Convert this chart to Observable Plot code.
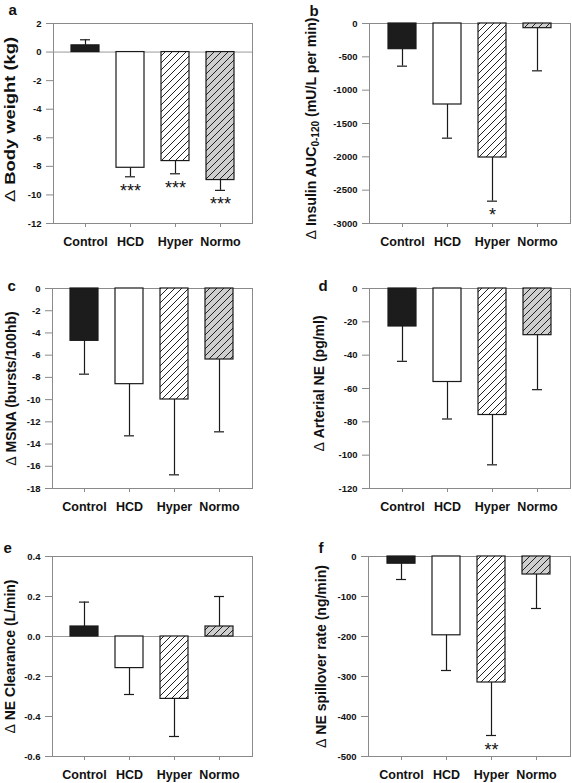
<!DOCTYPE html>
<html><head><meta charset="utf-8">
<script src="https://cdn.jsdelivr.net/npm/d3@7"></script>
<script src="https://cdn.jsdelivr.net/npm/@observablehq/plot@0.6"></script>
<style>
body{margin:0;background:#fff}
#wrap{position:relative;width:572px;height:783px;overflow:hidden}
</style>
</head><body>
<svg width="0" height="0" style="position:absolute"><defs>
<pattern id="hatchW" patternUnits="userSpaceOnUse" width="7" height="7"><rect width="7" height="7" fill="#fff"/><path d="M-1,1 l2,-2 M0,7 l7,-7 M6,8 l2,-2" stroke="#222" stroke-width="1"/></pattern>
<pattern id="hatchG" patternUnits="userSpaceOnUse" width="7" height="7"><rect width="7" height="7" fill="#cfcfcf"/><path d="M-1,1 l2,-2 M0,7 l7,-7 M6,8 l2,-2" stroke="#222" stroke-width="1"/></pattern>
</defs></svg>
<div id="wrap"></div>
<script>
// ---- data ----
const categories = ["Control", "HCD", "Hyper", "Normo"];
const barFills = ["#1c1c1c", "#ffffff", "url(#hatchW)", "url(#hatchG)"];

const bodyWeight = [0.47, -8.1, -7.63, -8.96];
const bodyWeightSem = [0.39, 0.63, 0.89, 0.72];
const bodyWeightStars = ["", "***", "***", "***"];
const bodyWeightTicks = [2, 0, -2, -4, -6, -8, -10, -12];

const insulin = [-385, -1215, -2010, -70];
const insulinSem = [255, 505, 655, 640];
const insulinStars = ["", "", "*", ""];
const insulinTicks = [0, -500, -1000, -1500, -2000, -2500, -3000];

const msna = [-4.71, -8.61, -9.99, -6.39];
const msnaSem = [3.0, 4.65, 6.78, 6.51];
const msnaTicks = [0, -2, -4, -6, -8, -10, -12, -14, -16, -18];

const arterialNE = [-22.8, -56.1, -75.9, -28];
const arterialNESem = [20.9, 22.2, 29.9, 32.7];
const arterialNETicks = [0, -20, -40, -60, -80, -100, -120];

const clearance = [0.05, -0.158, -0.312, 0.05];
const clearanceSem = [0.122, 0.132, 0.188, 0.15];
const clearanceTicks = [0.4, 0.2, 0.0, -0.2, -0.4, -0.6];

const spillover = [-18, -197, -315, -45];
const spilloverSem = [39.5, 88, 132.5, 85];
const spilloverStars = ["", "", "**", ""];
const spilloverTicks = [0, -100, -200, -300, -400, -500];

// ---- layout ----
const panels = [
  {letter: "a", values: bodyWeight, sem: bodyWeightSem, stars: bodyWeightStars, ticks: bodyWeightTicks, domain: [-12, 2],
   label: ["Δ", " Body weight (kg)"], zero: true, fmt: d => String(d),
   left: 0, top: 0, w: 286, h: 260, m: [23, 34, 37, 53], letterAt: [8, 14], labelX: 14, labelLen: 165, labelDy: -4},
  {letter: "b", values: insulin, sem: insulinSem, stars: insulinStars, ticks: insulinTicks, domain: [-3000, 0],
   label: ["Δ", " Insulin AUC", "0-120", " (mU/L per min)"], zero: false, fmt: d => String(d),
   left: 286, top: 0, w: 286, h: 260, m: [23, 2, 37, 83], letterAt: [309, 15], labelX: 315, labelLen: 222, labelDy: 5},
  {letter: "c", values: msna, sem: msnaSem, ticks: msnaTicks, domain: [-18, 0],
   label: ["Δ", " MSNA (bursts/100hb)"], zero: false, fmt: d => String(d),
   left: 0, top: 260, w: 286, h: 260, m: [28, 34, 32, 52], letterAt: [7, 290], labelX: 15, labelDy: 0},
  {letter: "d", values: arterialNE, sem: arterialNESem, ticks: arterialNETicks, domain: [-120, 0],
   label: ["Δ", " Arterial NE (pg/ml)"], zero: false, fmt: d => String(d),
   left: 286, top: 260, w: 286, h: 260, m: [28, 2, 32, 83], letterAt: [318, 290], labelX: 323, labelDy: -5},
  {letter: "e", values: clearance, sem: clearanceSem, ticks: clearanceTicks, domain: [-0.6, 0.4],
   label: ["Δ", " NE Clearance (L/min)"], zero: true, fmt: d => d.toFixed(1),
   left: 0, top: 520, w: 286, h: 263, m: [36, 34, 27, 52], letterAt: [3, 552], labelX: 14, labelDy: 0},
  {letter: "f", values: spillover, sem: spilloverSem, stars: spilloverStars, ticks: spilloverTicks, domain: [-500, 0],
   label: ["Δ", " NE spillover rate (ng/min)"], zero: false, fmt: d => String(d),
   left: 286, top: 520, w: 286, h: 263, m: [36, 2, 27, 82], letterAt: [318, 552], labelX: 325, labelDy: 0}
];

const ink = "#1a1a1a";
const wrap = document.getElementById("wrap");

for (const p of panels) {
  const [mt, mr, mb, ml] = p.m;
  const rows = categories.map((c, i) => ({
    cat: c,
    v: p.values[i],
    end: p.values[i] + Math.sign(p.values[i]) * p.sem[i],
    fill: barFills[i],
    star: p.stars ? p.stars[i] : ""
  }));
  const svg = Plot.plot({
    width: p.w, height: p.h,
    marginTop: mt, marginRight: mr, marginBottom: mb, marginLeft: ml,
    style: {fontFamily: "'Liberation Sans', Arial, sans-serif", fontWeight: "bold", fontSize: "9.5px", color: "#111", background: "transparent", overflow: "visible"},
    x: {type: "band", domain: categories, paddingInner: 0.375, paddingOuter: 0.395, axis: null},
    y: {domain: p.domain, axis: null},
    color: {type: "identity"},
    marks: [
      Plot.frame({stroke: "#8a8a8a", strokeWidth: 1}),
      p.zero ? Plot.ruleY([0], {stroke: "#9a9a9a", strokeWidth: 1}) : null,
      Plot.barY(rows, {x: "cat", y1: 0, y2: "v", fill: "fill", stroke: ink, strokeWidth: 1.2}),
      Plot.ruleX(rows, {x: "cat", y1: "v", y2: "end", stroke: ink, strokeWidth: 1.2}),
      Plot.tickY(rows, {x: "cat", y: "end", stroke: ink, strokeWidth: 1.2, insetLeft: 9, insetRight: 9}),
      Plot.axisY({ticks: p.ticks, tickFormat: p.fmt, tickSize: 7, tickPadding: 5, stroke: "#8a8a8a", fill: "#111", label: null, fontSize: 9.5}),
      Plot.axisX({tickSize: 4, tickPadding: 10, stroke: "#8a8a8a", fill: "#111", fontSize: 12.5, label: null}),
      Plot.text(rows.filter(d => d.star), {x: "cat", y: "end", text: "star", dy: 20, lineAnchor: "bottom", fontSize: 18, fontWeight: "normal", fill: "#111"}),
      Plot.text([p.letter], {text: d => d, frameAnchor: "top-left", dx: p.letterAt[0] - p.left - ml, dy: p.letterAt[1] - p.top - mt,
        lineAnchor: "bottom", textAnchor: "start", fontSize: 15, fontWeight: "bold", fill: "#111"}),
      Plot.text([p.label.join("")], {text: d => d, frameAnchor: "left", rotate: -90, dx: p.labelX - p.left - ml, dy: p.labelDy,
        lineAnchor: "bottom", textAnchor: "middle", fontSize: 14, fontWeight: "bold", fill: "#111", className: "ylab"})
    ]
  });
  svg.style.position = "absolute";
  svg.style.left = p.left + "px";
  svg.style.top = p.top + "px";
  wrap.appendChild(svg);

  // split the axis title so the Δ is drawn light and the subscript is lowered
  const lab = d3.select(svg).select("g.ylab text");
  lab.text(null);
  lab.append("tspan").attr("font-weight", "normal").text(p.label[0]);
  lab.append("tspan").text(p.label[1]);
  if (p.label.length > 2) {
    lab.append("tspan").attr("font-size", "10px").attr("dy", "0.35em").text(p.label[2]);
    lab.append("tspan").attr("dy", "-0.25em").text(p.label[3]);
  }
  if (p.labelLen) {
    lab.attr("textLength", p.labelLen).attr("lengthAdjust", "spacingAndGlyphs");
  }
}
</script>
</body></html>
